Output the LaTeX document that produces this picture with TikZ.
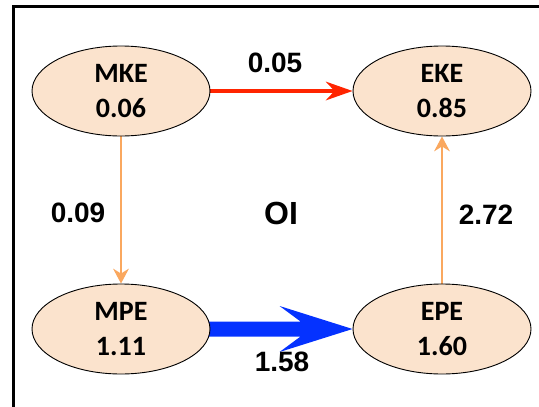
\documentclass[tikz,border=0pt]{standalone}
\usepackage{fontspec}
\setmainfont{Liberation Sans}
\newfontfamily\nodefont{Carlito}
\usetikzlibrary{arrows.meta,shapes.geometric,backgrounds}
\definecolor{peach}{RGB}{251,227,205}
\definecolor{flowred}{RGB}{255,36,0}
\definecolor{flowblue}{RGB}{5,50,255}
\definecolor{floworange}{RGB}{250,168,95}
\tikzset{
  energy/.style={ellipse, draw=black, line width=0.9pt, fill=peach,
    minimum width=178pt, minimum height=90pt, inner sep=0pt, align=center,
    font=\nodefont\bfseries\fontsize{28}{35}\selectfont},
  rate/.style={font=\bfseries\fontsize{28}{34}\selectfont, inner sep=0pt},
  thinflow/.style={draw=floworange, line width=2.5pt,
    -{Stealth[length=15pt,width=16pt,inset=5pt,line width=0pt]}},
  redflow/.style={draw=flowred, line width=4pt,
    -{Stealth[length=27pt,width=19pt,inset=9pt,line width=0pt]}}
}
\begin{document}
\begin{tikzpicture}[x=1pt,y=-1pt]
  \useasboundingbox (0,0) rectangle (539,407);
  \clip (0,0) rectangle (539,407);
  % outer frame (continues past the right and bottom edges)
  \draw[line width=3pt] (13.5,6) rectangle (600,460);

  % energy reservoirs
  \node[energy] (MKE) at (121,91)  {MKE\\0.06};
  \node[energy] (EKE) at (442,91)  {EKE\\0.85};
  \node[energy] (MPE) at (121,329) {MPE\\1.11};
  \node[energy] (EPE) at (442,329) {EPE\\1.60};

  % conversion arrows, kept beneath the ellipses
  \begin{scope}[on background layer]
    \draw[redflow] (MKE.east) -- (EKE.west);
    \draw[thinflow] (MKE.south) -- (MPE.north);
    \draw[thinflow] (EPE.north) -- (EKE.south);
    % broad blue arrow from MPE to EPE
    \coordinate (tip) at (EPE.west);
    \fill[flowblue] ([xshift=-20pt,yshift=-7.5pt]MPE.east)
      -- ([xshift=-52pt,yshift=-7.5pt]tip)
      -- ([xshift=-73pt,yshift=-23pt]tip)
      -- (tip)
      -- ([xshift=-73pt,yshift=23pt]tip)
      -- ([xshift=-52pt,yshift=7.5pt]tip)
      -- ([xshift=-20pt,yshift=7.5pt]MPE.east) -- cycle;
  \end{scope}

  % transfer rates
  \node[rate] (r1) at (275,63)  {0.05};
  \node[rate] (r2) at (78,213)  {0.09};
  \node[rate] (r3) at (486,215) {2.72};
  \node[rate] (r4) at (282,362) {1.58};
  \node[font=\bfseries\fontsize{32}{38}\selectfont, inner sep=0pt] (oi) at (281,213) {OI};
\end{tikzpicture}
\end{document}
